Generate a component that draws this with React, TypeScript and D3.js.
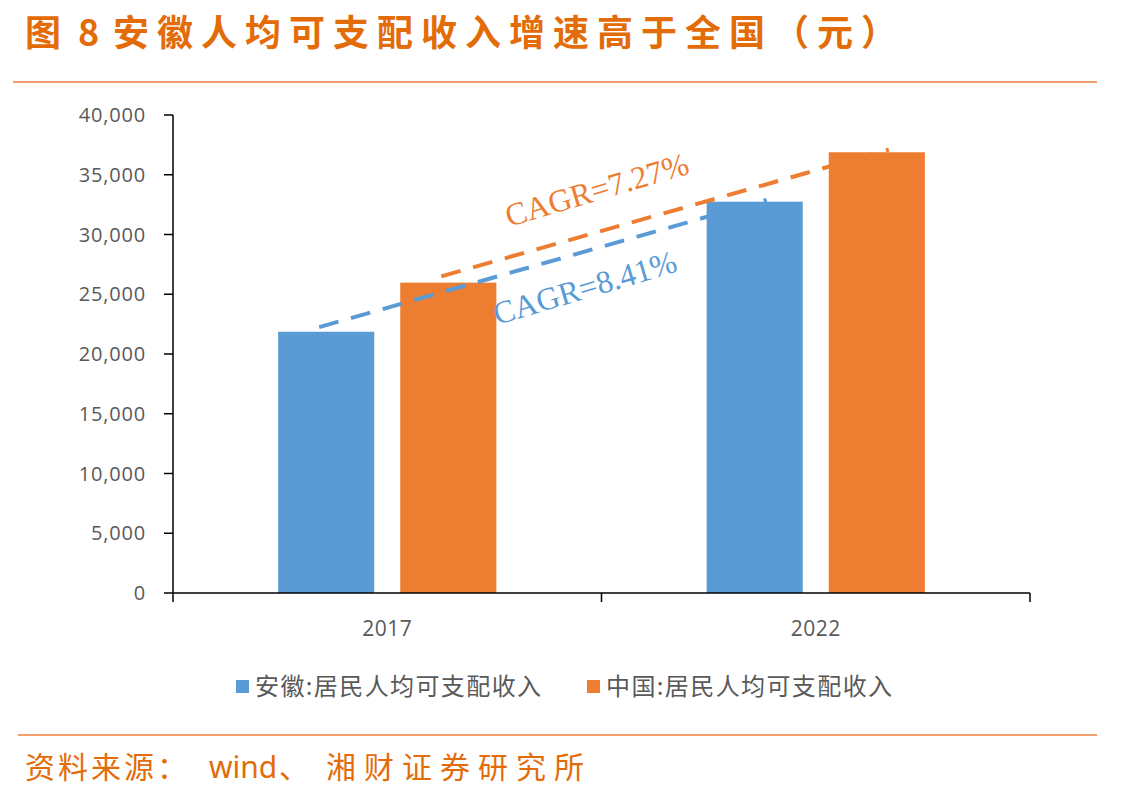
import React from "react";
import * as d3 from "d3";

const categories = ["2017", "2022"];
const seriesNames = ["安徽:居民人均可支配收入", "中国:居民人均可支配收入"];
const anhuiValues = [21863, 32745];
const chinaValues = [25974, 36883];
const yTicks = [0, 5000, 10000, 15000, 20000, 25000, 30000, 35000, 40000];
const trendStart = [22250, 26500];
const trendEnd = [32900, 37100];
const trendLabels = ["CAGR=8.41%", "CAGR=7.27%"];

const colors = ["#5B9BD5", "#ED7D31"];
const accent = "#E36C09";

export default function App() {
  const W = 1143, H = 796;
  const left = 173, right = 1030, top = 115, bottom = 593;
  const y = d3.scaleLinear().domain([0, 40000]).range([bottom, top]);
  const x0 = d3.scaleBand<string>().domain(categories).range([left, right]).padding(0);
  const x1 = d3.scaleBand<string>().domain(seriesNames).range([0, x0.bandwidth()]).paddingInner(0.213).paddingOuter(0.861);
  const values = [anhuiValues, chinaValues];
  const fmt = d3.format(",");
  const cjk = "'Noto Sans CJK SC', sans-serif";

  return (
    <svg width={W} height={H} style={{ position: "absolute", left: 0, top: 0, background: "#fff" }}>
      <text y={46} fill={accent} fontSize={36} fontWeight={700} fontFamily={cjk}>
        <tspan x={25}>图</tspan>
        <tspan x={78}>8</tspan>
        <tspan x={113} letterSpacing={8}>安徽人均可支配收入增速高于全国（元）</tspan>
      </text>
      <line x1={13} x2={1097} y1={82} y2={82} stroke="#F0A070" strokeWidth={2} />
      {/* y axis */}
      <line x1={left} x2={left} y1={top} y2={bottom} stroke="#000" strokeWidth={1.5} />
      {yTicks.map((t) => (
        <g key={t}>
          <line x1={left - 9} x2={left} y1={y(t)} y2={y(t)} stroke="#000" strokeWidth={1.5} />
          <text x={146} y={y(t)} dy="0.35em" textAnchor="end" fontSize={20} letterSpacing={0.8} fill="#595959" fontFamily="'Open Sans', 'Noto Sans', sans-serif">
            {fmt(t)}
          </text>
        </g>
      ))}
      {/* bars */}
      {categories.map((c, ci) =>
        seriesNames.map((s, si) => (
          <rect key={c + s} x={(x0(c) as number) + (x1(s) as number)} y={y(values[si][ci])} width={x1.bandwidth()} height={bottom - y(values[si][ci])} fill={colors[si]} />
        ))
      )}
      {/* x axis */}
      <line x1={left} x2={right} y1={bottom} y2={bottom} stroke="#000" strokeWidth={1.5} />
      {[left, ...categories.map((c) => (x0(c) as number) + x0.bandwidth())].map((tx, i) => (
        <line key={i} x1={tx} x2={tx} y1={bottom} y2={bottom + 9} stroke="#000" strokeWidth={1.5} />
      ))}
      {categories.map((c) => (
        <text key={c} x={(x0(c) as number) + x0.bandwidth() / 2} y={636} textAnchor="middle" fontSize={21} letterSpacing={0.5} fill="#595959" fontFamily="'Open Sans', 'Noto Sans', sans-serif">
          {c}
        </text>
      ))}
      {/* trend lines */}
      {seriesNames.map((s, si) => {
        const xs = (x0(categories[0]) as number) + (x1(s) as number) + x1.bandwidth() / 2 - 7;
        const xe = (x0(categories[1]) as number) + (x1(s) as number) + x1.bandwidth() / 2 + 12;
        const ys = y(trendStart[si]);
        const ye = y(trendEnd[si]);
        return (
          <line key={s} x1={xs} y1={ys} x2={xe} y2={ye} stroke={colors[si]} strokeWidth={4} strokeDasharray="20 13" />
        );
      })}
      {/* CAGR labels */}
      {seriesNames.map((s, si) => {
        const xs = (x0(categories[0]) as number) + (x1(s) as number) + x1.bandwidth() / 2;
        const xe = (x0(categories[1]) as number) + (x1(s) as number) + x1.bandwidth() / 2;
        const ang = (Math.atan2(y(trendEnd[si]) - y(trendStart[si]), xe - xs) * 180) / Math.PI;
        const pos = si === 0 ? { x: 588, y: 298 } : { x: 600, y: 200 };
        return (
          <text key={s} x={pos.x} y={pos.y} textAnchor="middle" fontSize={32} fill={colors[si]} fontFamily="'Liberation Serif', serif" transform={`rotate(${ang} ${pos.x} ${pos.y})`}>
            {trendLabels[si]}
          </text>
        );
      })}
      {/* legend */}
      {seriesNames.map((s, si) => {
        const lx = si === 0 ? 236 : 587;
        return (
          <g key={s}>
            <rect x={lx} y={680} width={13} height={13} fill={colors[si]} />
            <text x={lx + 19} y={695} fontSize={24} letterSpacing={1.4} fill="#595959" fontFamily={cjk}>
              {s}
            </text>
          </g>
        );
      })}
      <line x1={18} x2={1097} y1={735} y2={735} stroke="#F0A070" strokeWidth={2} />
      <text y={778} fill={accent} fontSize={30} fontFamily={cjk}>
        <tspan x={25} letterSpacing={3}>资料来源：</tspan>
        <tspan x={209} fontFamily="'Noto Sans', sans-serif">wind</tspan>
        <tspan x={279}>、</tspan>
        <tspan x={326} letterSpacing={8}>湘财证券研究所</tspan>
      </text>
    </svg>
  );
}
